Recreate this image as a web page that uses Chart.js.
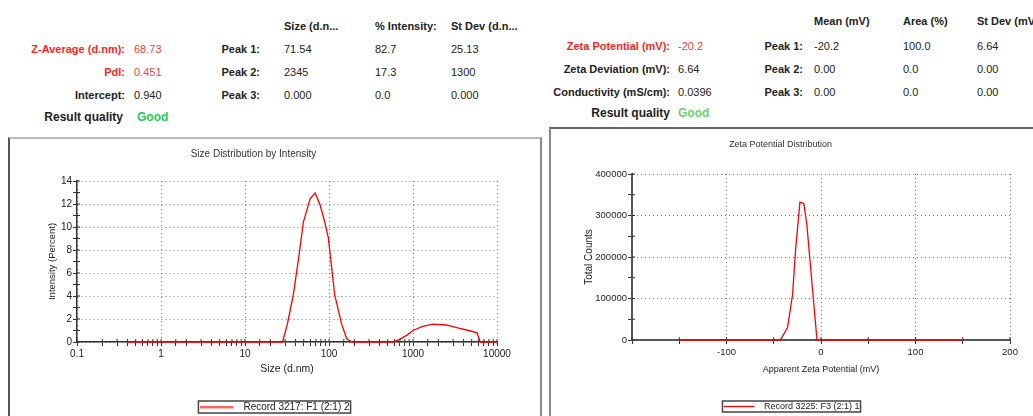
<!DOCTYPE html>
<html>
<head>
<meta charset="utf-8">
<script src="https://cdn.jsdelivr.net/npm/chart.js@4.4.1/dist/chart.umd.min.js"></script>
<style>
  body { margin: 0; background: #fff; width: 1033px; height: 416px; overflow: hidden; position: relative;
         font-family: 'Liberation Sans', Arial, sans-serif; }
  .t { position: absolute; font-size: 11px; line-height: 14px; white-space: nowrap; color: #222; }
  .b { font-weight: bold; }
  .r { text-align: right; }
  .red { color: #ff1f1f; }
  .redv { color: #ff3b3b; }
  .q { font-size: 12px; line-height: 16px; font-weight: bold; }
  .panel { position: absolute; box-sizing: border-box; }
  .box { position: absolute; }
</style>
</head>
<body>

<!-- size report header -->
<div class="t b r red" style="left:0;width:125px;top:42px">Z-Average (d.nm):</div>
<div class="t redv" style="left:134px;top:42px">68.73</div>
<div class="t b r red" style="left:0;width:125px;top:65px">PdI:</div>
<div class="t redv" style="left:134px;top:65px">0.451</div>
<div class="t b r" style="left:0;width:125px;top:88px">Intercept:</div>
<div class="t" style="left:134px;top:88px">0.940</div>
<div class="t q r" style="left:0;width:123px;top:109px">Result quality</div>
<div class="t q" style="left:137px;top:109px;color:#22cc55">Good</div>

<div class="t b" style="left:284px;top:19px">Size (d.n...</div>
<div class="t b" style="left:375px;top:19px">% Intensity:</div>
<div class="t b" style="left:451px;top:19px">St Dev (d.n...</div>
<div class="t b r" style="left:200px;width:60px;top:42px">Peak 1:</div>
<div class="t b r" style="left:200px;width:60px;top:65px">Peak 2:</div>
<div class="t b r" style="left:200px;width:60px;top:88px">Peak 3:</div>
<div class="t" style="left:284px;top:42px">71.54</div>
<div class="t" style="left:375px;top:42px">82.7</div>
<div class="t" style="left:451px;top:42px">25.13</div>
<div class="t" style="left:284px;top:65px">2345</div>
<div class="t" style="left:375px;top:65px">17.3</div>
<div class="t" style="left:451px;top:65px">1300</div>
<div class="t" style="left:284px;top:88px">0.000</div>
<div class="t" style="left:375px;top:88px">0.0</div>
<div class="t" style="left:451px;top:88px">0.000</div>

<!-- zeta report header -->
<div class="t b r red" style="left:540px;width:130px;top:39px">Zeta Potential (mV):</div>
<div class="t redv" style="left:678px;top:39px">-20.2</div>
<div class="t b r" style="left:540px;width:130px;top:62px">Zeta Deviation (mV):</div>
<div class="t" style="left:678px;top:62px">6.64</div>
<div class="t b r" style="left:540px;width:130px;top:85px">Conductivity (mS/cm):</div>
<div class="t" style="left:678px;top:85px">0.0396</div>
<div class="t q r" style="left:540px;width:130px;top:105px">Result quality</div>
<div class="t q" style="left:678px;top:105px;color:#6ccf6c">Good</div>

<div class="t b" style="left:814px;top:14px">Mean (mV)</div>
<div class="t b" style="left:903px;top:14px">Area (%)</div>
<div class="t b" style="left:977px;top:14px">St Dev (mV)</div>
<div class="t b r" style="left:743px;width:60px;top:39px">Peak 1:</div>
<div class="t b r" style="left:743px;width:60px;top:62px">Peak 2:</div>
<div class="t b r" style="left:743px;width:60px;top:85px">Peak 3:</div>
<div class="t" style="left:814px;top:39px">-20.2</div>
<div class="t" style="left:903px;top:39px">100.0</div>
<div class="t" style="left:977px;top:39px">6.64</div>
<div class="t" style="left:814px;top:62px">0.00</div>
<div class="t" style="left:903px;top:62px">0.0</div>
<div class="t" style="left:977px;top:62px">0.00</div>
<div class="t" style="left:814px;top:85px">0.00</div>
<div class="t" style="left:903px;top:85px">0.0</div>
<div class="t" style="left:977px;top:85px">0.00</div>

<!-- frames -->
<div class="panel" style="left:8px;top:137px;width:534px;height:300px;border-left:2px solid #555;border-top:2px solid #bbb;border-right:2px solid #888"></div>
<div class="panel" style="left:549px;top:127px;width:500px;height:300px;border-left:2px solid #888;border-top:2px solid #666"></div>

<div class="box" style="left:10px;top:138px;width:530px;height:284px"><canvas id="sizeChart" width="530" height="284"></canvas></div>
<div class="box" style="left:551px;top:129px;width:482px;height:292px"><canvas id="zetaChart" width="482" height="292"></canvas></div>

<script>
// Size distribution by intensity
const sizeNm = [0.4, 28, 31.8, 37.6, 43.5, 49.5, 59.5, 68.4, 78, 88.6, 98, 117, 141, 162, 187,
                580, 700, 850, 1000, 1300, 1750, 2500, 3500, 4600, 5800, 6300, 10000];
const intensityPct = [0, 0, 1.5, 4.1, 7.3, 10.4, 12.45, 12.95, 11.95, 10.5, 9.1, 4.1, 1.6, 0.3, 0,
                      0, 0.25, 0.6, 1.0, 1.35, 1.55, 1.48, 1.2, 1.0, 0.8, 0, 0];

// Zeta potential distribution
const zetaMv = [-150, -43, -35.4, -30.1, -26.8, -22.3, -18.2, -15, -8.9, -4.2, 150];
const totalCounts = [0, 0, 29900, 109000, 220000, 332000, 329000, 279000, 120000, 0, 0];

const FONT = "'Liberation Sans', Arial, sans-serif";
const GRID = '#777';
const NONE = 'rgba(0,0,0,0)';

function isPow10(v) {
    const l = Math.log10(v);
    return Math.abs(l - Math.round(l)) < 1e-6;
}

// short red line with empty space after it, used as the legend sample
function legendLine(len, gap) {
    const c = document.createElement('canvas');
    c.width = len + gap;
    c.height = 3;
    const g = c.getContext('2d');
    g.strokeStyle = '#ff0000';
    g.lineWidth = 1.3;
    g.beginPath();
    g.moveTo(0, 1.5);
    g.lineTo(len, 1.5);
    g.stroke();
    return c;
}

// legend spans the whole canvas, framed; tick marks also poke inside the plot
const reportLook = {
    id: 'reportLook',
    afterLayout(chart) {
        const lg = chart.legend;
        lg.left = 0;
        lg.right = chart.width;
        lg.width = chart.width;
    },
    afterDraw(chart) {
        const ctx = chart.ctx;
        const area = chart.chartArea;
        ctx.save();
        ctx.strokeStyle = '#333';
        ctx.lineWidth = 1;
        Object.values(chart.scales).forEach(scale => {
            scale.ticks.forEach((t, i) => {
                const p = scale.getPixelForTick(i);
                ctx.beginPath();
                if (scale.isHorizontal()) {
                    ctx.moveTo(p, area.bottom);
                    ctx.lineTo(p, area.bottom - 3);
                } else {
                    ctx.moveTo(area.left, p);
                    ctx.lineTo(area.left + 3, p);
                }
                ctx.stroke();
            });
        });
        const box = chart.legend.legendHitBoxes[0];
        if (box) {
            ctx.strokeStyle = '#444';
            ctx.lineWidth = 1.5;
            ctx.strokeRect(box.left - 2, box.top - 1, box.width + 3, box.height + 2);
        }
        ctx.restore();
    }
};

function buildChart(id, cfg) {
    return new Chart(document.getElementById(id), {
        type: 'line',
        data: {
            datasets: [{
                label: cfg.label,
                data: cfg.data,
                borderColor: '#ff0000',
                backgroundColor: '#ff0000',
                borderWidth: 1.3,
                pointRadius: 0,
                tension: 0,
                fill: false,
                clip: false
            }]
        },
        options: {
            responsive: false,
            animation: false,
            layout: { padding: { left: 0, right: cfg.padRight, top: 0, bottom: 0 } },
            plugins: {
                title: {
                    display: true,
                    text: cfg.title,
                    color: '#333',
                    font: { family: FONT, size: cfg.titleSize, weight: 'normal' },
                    padding: { top: 10, bottom: cfg.titleGap }
                },
                legend: {
                    position: 'bottom',
                    labels: {
                        usePointStyle: true,
                        pointStyle: legendLine(cfg.legendLen, cfg.legendGap),
                        pointStyleWidth: cfg.legendLen + cfg.legendGap,
                        color: '#222',
                        font: { family: FONT, size: cfg.legendSize },
                        padding: 4
                    }
                },
                tooltip: { enabled: false }
            },
            scales: { x: cfg.x, y: cfg.y }
        },
        plugins: [reportLook]
    });
}

buildChart('sizeChart', {
    label: 'Record 3217: F1 (2:1) 2',
    title: 'Size Distribution by Intensity',
    titleSize: 10,
    titleGap: 21,
    padRight: 43,
    legendSize: 10,
    legendLen: 33,
    legendGap: 5,
    data: sizeNm.map((s, i) => ({ x: s, y: intensityPct[i] })),
    x: {
        type: 'logarithmic',
        min: 0.1,
        max: 10000,
        afterFit: s => { s.height = 56; },
        border: { display: true, color: '#333', width: 1.5, dash: [1, 3] },
        grid: {
            color: c => isPow10(c.tick.value) ? GRID : NONE,
            tickColor: '#333',
            tickLength: 4
        },
        ticks: {
            autoSkip: false,
            maxRotation: 0,
            padding: 2,
            color: '#222',
            font: { family: FONT, size: 10 },
            callback: v => isPow10(v) ? String(Number(v.toPrecision(6))) : ''
        },
        title: {
            display: true,
            text: 'Size (d.nm)',
            color: '#222',
            font: { family: FONT, size: 10.5 },
            padding: { top: 0, bottom: 22.2 }
        }
    },
    y: {
        min: 0,
        max: 14,
        afterFit: s => { s.width = 67; },
        border: { display: true, color: '#333', width: 1.5, dash: [1, 3] },
        grid: {
            color: c => c.tick.value % 2 === 0 ? GRID : NONE,
            tickColor: '#333',
            tickLength: 4
        },
        ticks: {
            stepSize: 1,
            autoSkip: false,
            padding: 1,
            color: '#222',
            font: { family: FONT, size: 10 },
            callback: v => v % 2 === 0 ? String(v) : ''
        },
        title: {
            display: true,
            text: 'Intensity (Percent)',
            color: '#222',
            font: { family: FONT, size: 9.5 },
            padding: { top: 36.3, bottom: 0 }
        }
    }
});

buildChart('zetaChart', {
    label: 'Record 3225: F3 (2:1) 1',
    title: 'Zeta Potential Distribution',
    titleSize: 9,
    titleGap: 24.2,
    padRight: 23,
    legendSize: 9,
    legendLen: 30,
    legendGap: 5,
    data: zetaMv.map((z, i) => ({ x: z, y: totalCounts[i] })),
    x: {
        type: 'linear',
        min: -200,
        max: 200,
        afterFit: s => { s.height = 58; },
        border: { display: true, color: '#555', width: 2, dash: [1, 3] },
        grid: {
            color: c => (c.tick.value % 100 === 0 && c.tick.value !== -200) ? GRID : NONE,
            tickColor: '#333',
            tickLength: 4
        },
        ticks: {
            stepSize: 50,
            autoSkip: false,
            maxRotation: 0,
            padding: 3,
            color: '#222',
            font: { family: FONT, size: 9.5 },
            callback: v => (v % 100 === 0 && v !== -200) ? String(v) : ''
        },
        title: {
            display: true,
            text: 'Apparent Zeta Potential (mV)',
            color: '#222',
            font: { family: FONT, size: 9 },
            padding: { top: 0, bottom: 22.9 }
        }
    },
    y: {
        min: 0,
        max: 400000,
        afterFit: s => { s.width = 81; },
        border: { display: true, color: '#555', width: 2, dash: [1, 3] },
        grid: {
            color: c => c.tick.value % 100000 === 0 ? GRID : NONE,
            tickColor: '#333',
            tickLength: 4
        },
        ticks: {
            stepSize: 50000,
            autoSkip: false,
            padding: 1,
            color: '#222',
            font: { family: FONT, size: 9.5 },
            callback: v => v % 100000 === 0 ? String(v) : ''
        },
        title: {
            display: true,
            text: 'Total Counts',
            color: '#222',
            font: { family: FONT, size: 10 },
            padding: { top: 32, bottom: 0 }
        }
    }
});
</script>
</body>
</html>
